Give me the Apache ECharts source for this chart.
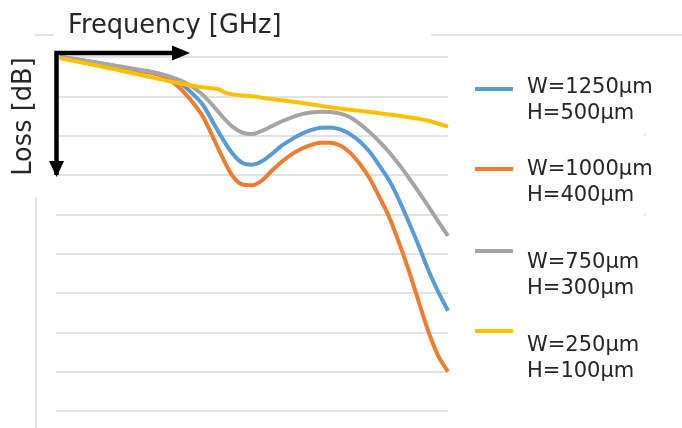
<!DOCTYPE html>
<html>
<head>
<meta charset="utf-8">
<script src="https://cdn.jsdelivr.net/npm/echarts@6/dist/echarts.min.js"></script>
<style>html,body{margin:0;padding:0;background:#fff;}#c{width:682px;height:428px;}</style>
</head>
<body>
<div id="c"></div>
<script>
// Frequency positions (arbitrary 0..100 scale, axis has no tick labels)
var freq = [1, 10, 20, 25, 27.5, 30, 32.5, 35, 37.5, 40, 42.5, 45, 47.5, 50, 52.5, 55, 57.5, 60,
            62.5, 65, 67.5, 70, 72.5, 75, 77.5, 80, 82.5, 85, 87.5, 90, 92.5, 95, 97.5, 100];
var freqYellow = [1, 10, 20, 25, 30, 35, 37.5, 40, 41.5, 43, 45, 50, 55, 60, 65, 70, 75, 80, 85, 90, 95, 100];
// Loss values (dB, increasing downward)
var lossW1250 = [0, 0.14, 0.32, 0.4, 0.47, 0.58, 0.73, 0.95, 1.22, 1.65, 2.08, 2.45, 2.69, 2.74, 2.65, 2.47, 2.26, 2.1,
                 1.96, 1.86, 1.8, 1.79, 1.84, 1.96, 2.15, 2.41, 2.76, 3.14, 3.63, 4.2, 4.79, 5.42, 5.97, 6.45];
var lossW1000 = [0, 0.15, 0.34, 0.42, 0.5, 0.65, 0.88, 1.17, 1.52, 2.03, 2.56, 3.02, 3.24, 3.26, 3.14, 2.9, 2.67, 2.48,
                 2.34, 2.24, 2.18, 2.18, 2.25, 2.43, 2.72, 3.08, 3.56, 4.07, 4.72, 5.43, 6.21, 6.98, 7.6, 8.0];
var lossW750  = [0, 0.13, 0.3, 0.39, 0.45, 0.53, 0.63, 0.77, 0.97, 1.23, 1.52, 1.77, 1.92, 1.96, 1.88, 1.76, 1.64, 1.54,
                 1.46, 1.41, 1.39, 1.4, 1.44, 1.53, 1.7, 1.91, 2.15, 2.42, 2.73, 3.07, 3.43, 3.8, 4.18, 4.55];
var lossW250  = [0.03, 0.21, 0.42, 0.53, 0.64, 0.73, 0.77, 0.8, 0.82, 0.9, 0.95, 1.0, 1.07, 1.13, 1.2, 1.28, 1.34, 1.4,
                 1.46, 1.53, 1.62, 1.77];
var seriesNames = ['W=1250μm\nH=500μm', 'W=1000μm\nH=400μm', 'W=750μm\nH=300μm', 'W=250μm\nH=100μm'];
var seriesColors = ['#5B9BD5', '#ED7D31', '#A5A5A5', '#FFC000'];
var xTitle = 'Frequency [GHz]';
var yTitle = 'Loss [dB]';

function pairs(xs, ys) { return xs.map(function (x, i) { return [x, ys[i]]; }); }
var allData = [pairs(freq, lossW1250), pairs(freq, lossW1000), pairs(freq, lossW750), pairs(freqYellow, lossW250)];

var legendIconY = [89, 169, 251, 331];
var legendTextY = [100.5, 182.5, 276, 359];
var FONT = '"DejaVu Sans", sans-serif';

var graphics = [
  {type: 'line', shape: {x1: 35, y1: 35, x2: 54, y2: 35}, style: {stroke: '#d9d9d9', lineWidth: 1.5}},
  {type: 'line', shape: {x1: 431, y1: 35, x2: 682, y2: 35}, style: {stroke: '#d9d9d9', lineWidth: 1.5}},
  {type: 'line', shape: {x1: 36, y1: 197, x2: 36, y2: 428}, style: {stroke: '#d9d9d9', lineWidth: 1.5}},
  {type: 'circle', shape: {cx: 645, cy: 134.5, r: 0.8}, style: {fill: '#bfbfbf'}},
  {type: 'circle', shape: {cx: 645, cy: 214.5, r: 0.8}, style: {fill: '#bfbfbf'}},
  {type: 'text', x: 68, y: 13, style: {text: xTitle, font: '25.7px ' + FONT, fill: '#262626', align: 'left', verticalAlign: 'top'}},
  {type: 'text', x: 24, y: 116.5, rotation: Math.PI / 2, style: {text: yTitle, font: '25.7px ' + FONT, fill: '#262626', align: 'center', verticalAlign: 'middle'}},
  {type: 'polyline', shape: {points: [[56.5, 175], [56.5, 53], [175, 53]]}, style: {stroke: '#000', lineWidth: 4.5, fill: null}, z: 100},
  {type: 'polygon', shape: {points: [[172, 45.5], [190, 53], [172, 60.5]]}, style: {fill: '#000'}, z: 100},
  {type: 'polygon', shape: {points: [[49, 161], [56.5, 177], [64, 161]]}, style: {fill: '#000'}, z: 100}
];
seriesNames.forEach(function (n, i) {
  graphics.push({type: 'rect', shape: {x: 475, y: legendIconY[i] - 2, width: 38, height: 4}, style: {fill: seriesColors[i]}});
  graphics.push({type: 'text', x: 527, y: legendTextY[i], style: {text: n, font: '21px ' + FONT, lineHeight: 26, fill: '#262626', align: 'left', verticalAlign: 'middle'}});
});

var chart = echarts.init(document.getElementById('c'), null, {renderer: 'canvas'});
chart.setOption({
  animation: false,
  backgroundColor: '#ffffff',
  grid: {left: 56, top: 57, width: 392, height: 354},
  xAxis: {type: 'value', min: 0, max: 100, axisLine: {show: false}, axisTick: {show: false}, axisLabel: {show: false}, splitLine: {show: false}},
  yAxis: {type: 'value', inverse: true, min: 0, max: 9, interval: 1, axisLine: {show: false}, axisTick: {show: false}, axisLabel: {show: false},
    splitLine: {show: true, lineStyle: {color: '#d9d9d9', width: 1.5}}},
  series: seriesNames.map(function (n, i) {
    return {
      name: n, type: 'line', data: allData[i], smooth: i === 3 ? 0.2 : 0.3, showSymbol: false, symbol: 'none',
      itemStyle: {color: seriesColors[i]},
      lineStyle: {color: seriesColors[i], width: 4}
    };
  }),
  graphic: graphics
});
</script>
</body>
</html>
